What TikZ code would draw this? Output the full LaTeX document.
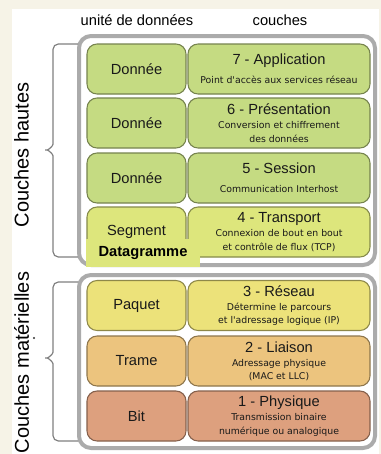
\documentclass[tikz,border=0pt]{standalone}
\usepackage{fontspec}
\setmainfont{Liberation Sans}
\newfontfamily\petite{DejaVu Sans}
\usetikzlibrary{positioning}
\definecolor{cvert}{HTML}{C5DB82}
\definecolor{cvertjaune}{HTML}{DDE67C}
\definecolor{cjaune}{HTML}{ECE27A}
\definecolor{corange}{HTML}{ECC47E}
\definecolor{csaumon}{HTML}{DDA07E}
\definecolor{cfond}{HTML}{F6F3E7}
\definecolor{ccadre}{HTML}{ABABAB}
\newcommand{\titre}[1]{{\normalfont\fontsize{11}{13}\selectfont #1}}

\begin{document}
\begin{tikzpicture}[x=0.75pt,y=-0.75pt,
  couche/.style={draw=#1!60!black,fill=#1,line width=0.8pt,rounded corners=7.5pt,
    minimum height=37.5pt,inner sep=0pt,align=center,text=black!90,
    font=\petite\fontsize{7}{10}\selectfont},
  unite/.style={couche=#1,minimum width=74.25pt,font=\fontsize{11}{13}\selectfont},
  nom/.style={couche=#1,minimum width=136.5pt},
  cadre/.style={draw=ccadre,line width=3pt,rounded corners=9pt,fill=white},
  accolade/.style={draw=black!50,line width=0.9pt,rounded corners=4pt}]
  \useasboundingbox (0,0) rectangle (381,454);
  \fill[cfond] (0,0) rectangle (381,454);
  \fill[white] (12,9) rectangle (379,454);

  % en-tetes
  \node[font=\fontsize{11}{13}\selectfont] (titreunite) at (137,20) {unité de données};
  \node[font=\fontsize{11}{13}\selectfont] (titrecouches) at (280,20) {couches};

  % cadres
  \draw[cadre] (79,36) rectangle (375,265);
  \draw[cadre] (79,275) rectangle (375,448);

  % couches hautes
  \node[unite=cvert] (donnee7) at (136.5,69) {Donnée};
  \node[nom=cvert] (application) at (279,69) {\titre{7 - Application}\\[4.5pt]Point d'accès aux services réseau};
  \node[unite=cvert] (donnee6) at (136.5,123) {Donnée};
  \node[nom=cvert] (presentation) at (279,123) {\titre{6 - Présentation}\\[0.5pt]Conversion et chiffrement\\des données};
  \node[unite=cvert] (donnee5) at (136.5,178) {Donnée};
  \node[nom=cvert] (session) at (279,178) {\titre{5 - Session}\\[4.5pt]Communication Interhost};
  \node[unite=cvertjaune] (segment) at (136.5,232) {Segment};
  \node[nom=cvertjaune] (transport) at (279,232) {\titre{4 - Transport}\\[0.5pt]Connexion de bout en bout\\et contrôle de flux (TCP)};
  \node[fill=cvertjaune,minimum width=85.5pt,minimum height=21pt,inner sep=0pt,
    font=\bfseries\fontsize{11}{13}\selectfont] (datagramme) at (143,253) {Datagramme};

  % couches materielles
  \node[unite=cjaune] (paquet) at (136.5,305.5) {Paquet};
  \node[nom=cjaune] (reseau) at (279,305.5) {\titre{3 - Réseau}\\[0.5pt]Détermine le parcours\\et l'adressage logique (IP)};
  \node[unite=corange] (trame) at (136.5,361) {Trame};
  \node[nom=corange] (liaison) at (279,361) {\titre{2 - Liaison}\\[0.5pt]Adressage physique\\(MAC et LLC)};
  \node[unite=csaumon] (bit) at (136.5,416) {Bit};
  \node[nom=csaumon] (physique) at (279,416) {\titre{1 - Physique}\\[0.5pt]Transmission binaire\\numérique ou analogique};

  % accolades
  \draw[accolade] (78,44) -- (53,44) -- (53,139)
    .. controls (53,146) and (48,150) .. (42,150)
    .. controls (48,150) and (53,154) .. (53,161) -- (53,257) -- (78,257);
  \draw[accolade] (78,282) -- (53,282) -- (53,347)
    .. controls (53,354) and (48,358) .. (42,358)
    .. controls (48,358) and (53,362) .. (53,369) -- (53,441) -- (78,441);
  \node[rotate=90,font=\fontsize{15}{18}\selectfont] (hautes) at (21.5,155) {Couches hautes};
  \node[rotate=90,font=\fontsize{15}{18}\selectfont] (materielles) at (21.5,362.5) {Couches matérielles};
  \fill[black!80] (34,338) circle (0.8pt);
\end{tikzpicture}
\end{document}
